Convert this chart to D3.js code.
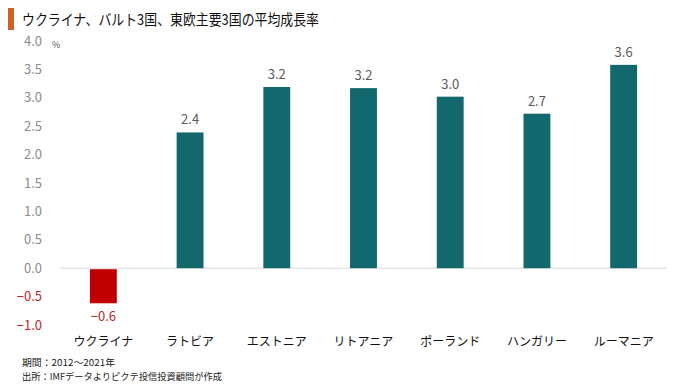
<!DOCTYPE html>
<html>
<head>
    <meta charset="UTF-8">
    <title></title>
    <script src="https://cdn.jsdelivr.net/npm/d3@7"></script>
    <style>
        body{
            padding: 0;
            margin: 0;
            background: #fff;
        }
        svg text{
            font-family: "Noto Sans CJK JP", sans-serif;
        }
        .axis path,
        .axis line{
            display: none;
        }
    </style>
</head>
<body>
<div class="first"></div>

<script>

    var countries = ["ウクライナ","ラトビア","エストニア","リトアニア","ポーランド","ハンガリー","ルーマニア"];
    var growth = [-0.6, 2.39, 3.19, 3.17, 3.02, 2.72, 3.58];
    var yTicks = [4.0, 3.5, 3.0, 2.5, 2.0, 1.5, 1.0, 0.5, 0.0, -0.5, -1.0];
    var notes = ["期間：2012～2021年", "出所：IMFデータよりピクテ投信投資顧問が作成"];

    var width = 680, height = 388;

    var svg = d3.select(".first")
        .append("svg")
        .attr("width", width)
        .attr("height", height);

    // タイトル
    svg.append("rect")
        .attr("x", 8).attr("y", 8)
        .attr("width", 6).attr("height", 22)
        .attr("fill", "#d0612b");
    svg.append("text")
        .attr("x", 22).attr("y", 25)
        .attr("font-size", 15)
        .attr("fill", "#111")
        .attr("textLength", 297)
        .attr("lengthAdjust", "spacingAndGlyphs")
        .text("ウクライナ、バルト3国、東欧主要3国の平均成長率");

    var x = d3.scaleBand()
        .domain(countries)
        .range([60, 667])
        .paddingInner(0.69)
        .paddingOuter(0.345);

    var y = d3.scaleLinear()
        .domain([-1, 4])
        .range([325, 41]);

    // y軸
    var yAxis = d3.axisLeft(y)
        .tickValues(yTicks)
        .tickSize(0)
        .tickPadding(0)
        .tickFormat(d3.format(".1f"));

    var gy = svg.append("g")
        .attr("class", "axis")
        .attr("transform", "translate(42,0)")
        .call(yAxis);
    gy.selectAll("text")
        .attr("font-size", 13)
        .attr("font-family", "'Noto Sans CJK JP', sans-serif")
        .attr("fill", function(d){ return d < 0 ? "#c0272d" : "#8c8c8c"; })
        .text(function(d){ return d < 0 ? "\u2212" + Math.abs(d).toFixed(1) : d.toFixed(1); });

    svg.append("text")
        .attr("x", 52).attr("y", 48)
        .attr("font-size", 9)
        .attr("fill", "#555")
        .text("%");

    // ゼロ線
    svg.append("line")
        .attr("x1", 60).attr("x2", 667)
        .attr("y1", y(0)).attr("y2", y(0))
        .attr("stroke", "#d9d9d9")
        .attr("stroke-width", 1);

    svg.selectAll(".bar")
        .data(growth)
        .enter()
        .append("rect")
        .attr("class", "bar")
        .attr("x", function(d, i){ return x(countries[i]); })
        .attr("width", x.bandwidth())
        .attr("y", function(d){ return d >= 0 ? y(d) : y(0) + 1; })
        .attr("height", function(d){ return Math.abs(y(d) - y(0)); })
        .attr("fill", function(d){ return d < 0 ? "#c00000" : "#12686d"; });

    svg.selectAll(".val")
        .data(growth)
        .enter()
        .append("text")
        .attr("class", "val")
        .attr("x", function(d, i){ return x(countries[i]) + x.bandwidth() / 2; })
        .attr("y", function(d){ return d >= 0 ? y(d) - 8 : y(d) + 19; })
        .attr("text-anchor", "middle")
        .attr("font-size", 13)
        .attr("fill", function(d){ return d < 0 ? "#c0272d" : "#595959"; })
        .text(function(d){ return d < 0 ? "\u2212" + Math.abs(d).toFixed(1) : d.toFixed(1); });

    // カテゴリ
    svg.selectAll(".cat")
        .data(countries)
        .enter()
        .append("text")
        .attr("class", "cat")
        .attr("x", function(d){ return x(d) + x.bandwidth() / 2; })
        .attr("y", 346)
        .attr("text-anchor", "middle")
        .attr("font-size", 12)
        .attr("fill", "#111")
        .text(function(d){ return d; });

    svg.selectAll(".note")
        .data(notes)
        .enter()
        .append("text")
        .attr("class", "note")
        .attr("x", 22)
        .attr("y", function(d, i){ return 366 + i * 14; })
        .attr("font-size", 9.5)
        .attr("fill", "#222")
        .attr("textLength", function(d, i){ return i === 0 ? 93 : 200; })
        .attr("lengthAdjust", "spacingAndGlyphs")
        .text(function(d){ return d; });

</script>
</body>
</html>
